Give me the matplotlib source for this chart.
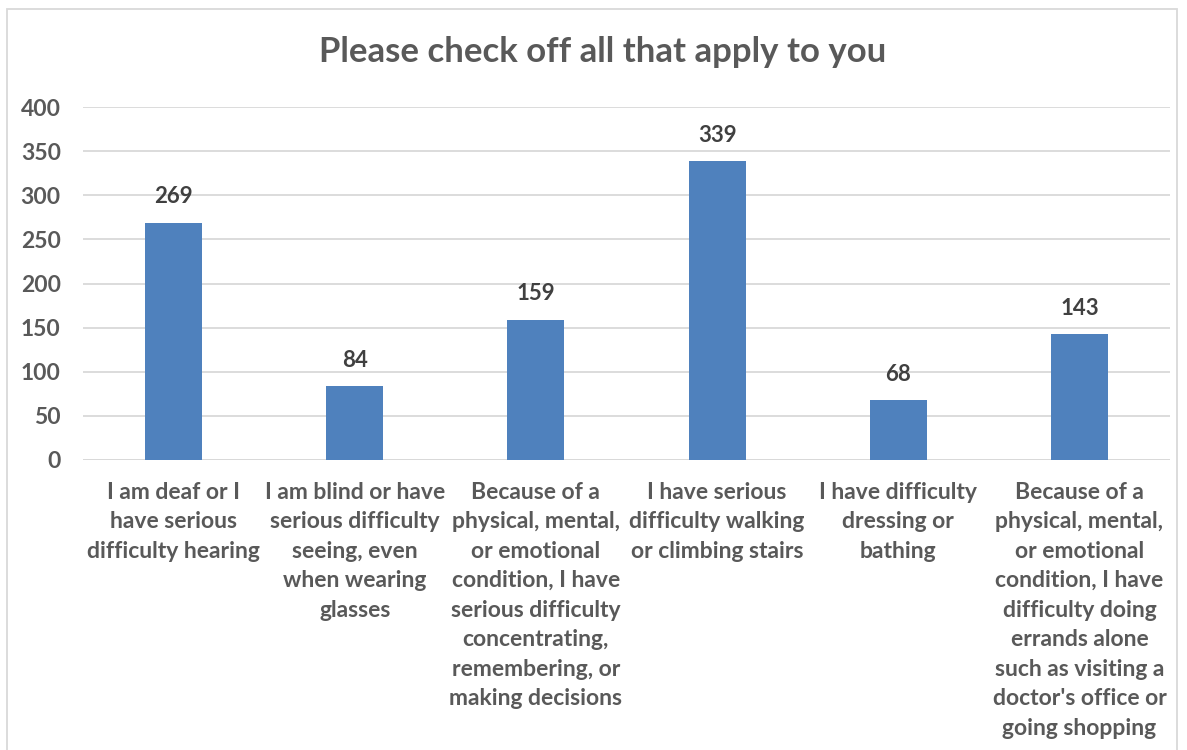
import matplotlib.pyplot as plt
from matplotlib.patches import Rectangle

categories = [
    "I am deaf or I\nhave serious\ndifficulty hearing",
    "I am blind or have\nserious difficulty\nseeing, even\nwhen wearing\nglasses",
    "Because of a\nphysical, mental,\nor emotional\ncondition, I have\nserious difficulty\nconcentrating,\nremembering, or\nmaking decisions",
    "I have serious\ndifficulty walking\nor climbing stairs",
    "I have difficulty\ndressing or\nbathing",
    "Because of a\nphysical, mental,\nor emotional\ncondition, I have\ndifficulty doing\nerrands alone\nsuch as visiting a\ndoctor's office or\ngoing shopping",
]
counts = [269, 84, 159, 339, 68, 143]
yticks = [0, 50, 100, 150, 200, 250, 300, 350, 400]

plt.rcParams['font.family'] = ['Lato', 'DejaVu Sans']
grey = '#595959'

fig = plt.figure(figsize=(11.87, 7.5), dpi=100)
ax = fig.add_axes([0.0699, 0.3867, 0.9158, 0.4706])

x = list(range(len(counts)))
bars = ax.bar(x, counts, width=0.315, color='#4F81BD', zorder=3)

for b, v in zip(bars, counts):
    ax.annotate(str(v), (b.get_x() + b.get_width() / 2, v),
                xytext=(0, 11), textcoords='offset points',
                ha='center', va='bottom', fontsize=16, fontweight='bold',
                color='#404040')

ax.set_xlim(-0.5, len(counts) - 0.5)
ax.set_ylim(0, 400)
ax.set_yticks(yticks)
ax.set_yticklabels([str(t) for t in yticks], fontsize=16.5, fontweight='bold', color=grey)
ax.set_xticks(x)
ax.set_xticklabels(categories, fontsize=16.5, fontweight='bold', color=grey,
                   linespacing=1.5, va='top')
ax.tick_params(axis='both', length=0)
ax.tick_params(axis='y', pad=16)
ax.tick_params(axis='x', pad=15.5)
ax.yaxis.grid(True, color='#D9D9D9', linewidth=1.3, zorder=0)
for s in ax.spines.values():
    s.set_visible(False)
ax.axhline(0, color='#D9D9D9', linewidth=1.3, zorder=2)

fig.text(0.508, 0.93, "Please check off all that apply to you",
         ha='center', va='center', fontsize=25, fontweight='bold', color=grey)

# chart frame, running off the bottom edge
fig.patches.append(Rectangle((7 / 1187, -0.05), 1170 / 1187, 1.05 - 9 / 750,
                             transform=fig.transFigure, fill=False,
                             edgecolor='#D9D9D9', linewidth=1.3))

fig.savefig('out.png', dpi=100)
